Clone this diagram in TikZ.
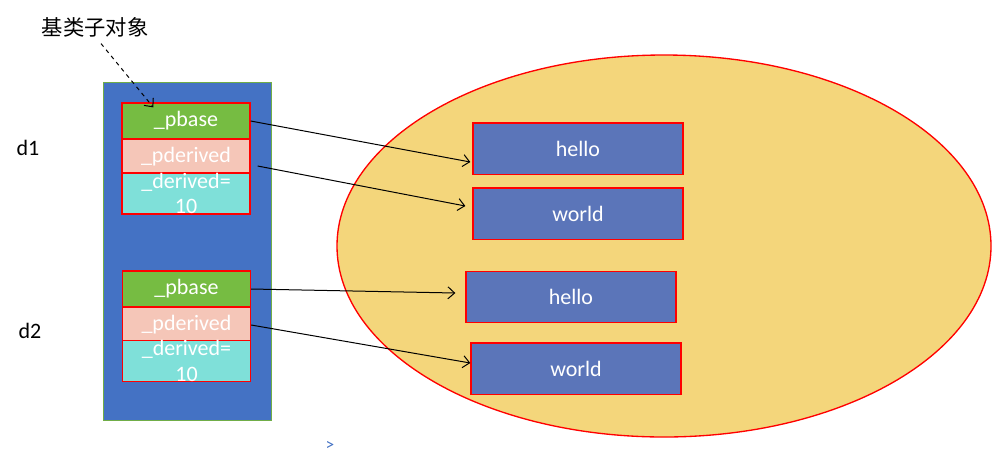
\documentclass[tikz,border=0pt]{standalone}
\usepackage{fontspec}
\setmainfont{Carlito}
\newfontfamily\cjk{Noto Sans CJK SC}
\usetikzlibrary{calc,arrows.meta}
\definecolor{frameblue}{HTML}{4472C4}
\definecolor{framegreen}{HTML}{70AD47}
\definecolor{basegreen}{HTML}{76BC42}
\definecolor{salmon}{HTML}{F5C6B8}
\definecolor{aqua}{HTML}{7FE0D9}
\definecolor{heapgold}{HTML}{F4D67B}
\definecolor{strblue}{HTML}{5B75B9}

\begin{document}
\begin{tikzpicture}[x=0.75pt, y=-0.75pt,
	txt/.style={font=\fontsize{16.5}{19}\selectfont},
	field/.style={txt, draw=red, line width=1pt, text=white, minimum width=96pt, minimum height=27pt, inner sep=0pt, align=center},
	strbox/.style={txt, draw=red, line width=1pt, fill=strblue, text=white, minimum width=157.5pt, minimum height=38.5pt, inner sep=0pt},
	ptr/.style={line width=0.75pt, -{Straight Barb[length=5pt, width=9pt]}}]
	\useasboundingbox (0,0) rectangle (999,462);

	\draw[fill=frameblue, draw=framegreen, line width=0.75pt] (103,82) rectangle (271,420);
	\draw[fill=heapgold, draw=red, line width=1pt] (664,246) ellipse [x radius=245.25pt, y radius=143.25pt];

	\node[field, fill=basegreen] (pbaseA) at (186,121) {\_pbase};
	\node[field, fill=salmon] (pderivedA) at (186,157) {\_pderived};
	\node[field, fill=aqua, minimum height=27.75pt] (derivedA) at (186,193.5) {\_derived=\\10};
	\node[field, fill=basegreen] (pbaseB) at (186.5,289) {\_pbase};
	\node[field, fill=salmon] (pderivedB) at (186.5,325) {\_pderived};
	\node[field, fill=aqua] (derivedB) at (186.5,361) {\_derived=\\10};

	\node[strbox] (hello1) at (578,148.5) {hello};
	\node[strbox] (world1) at (578,213.5) {world};
	\node[strbox] (hello2) at (571,297) {hello};
	\node[strbox] (world2) at (576,368.5) {world};

	\node[txt] (d1) at (28,148) {d1};
	\node[txt] (d2) at (30,331) {d2};
	\node[font=\cjk\fontsize{16}{18}\selectfont] (title) at (95,27) {基类子对象};
	\node[text=frameblue, font=\fontsize{13}{15}\selectfont] (more) at (330,446) {>};

	\coordinate (titlefoot) at ($(title.south)+(6,2)$);
	\draw[ptr, dashed] (titlefoot) -- ($(pbaseA.north west)+(32,5)$);
	\draw[ptr] (pbaseA.east) -- ($(hello1.west)+(-2,13.5)$);
	\draw[ptr] ($(pderivedA.east)+(7,9)$) -- ($(world1.west)+(-7,-7.5)$);
	\draw[ptr] (pbaseB.east) -- ($(hello2.west)+(-10,-4)$);
	\draw[ptr] (pderivedB.east) -- ($(world2.west)+(0,-5.5)$);
\end{tikzpicture}
\end{document}
